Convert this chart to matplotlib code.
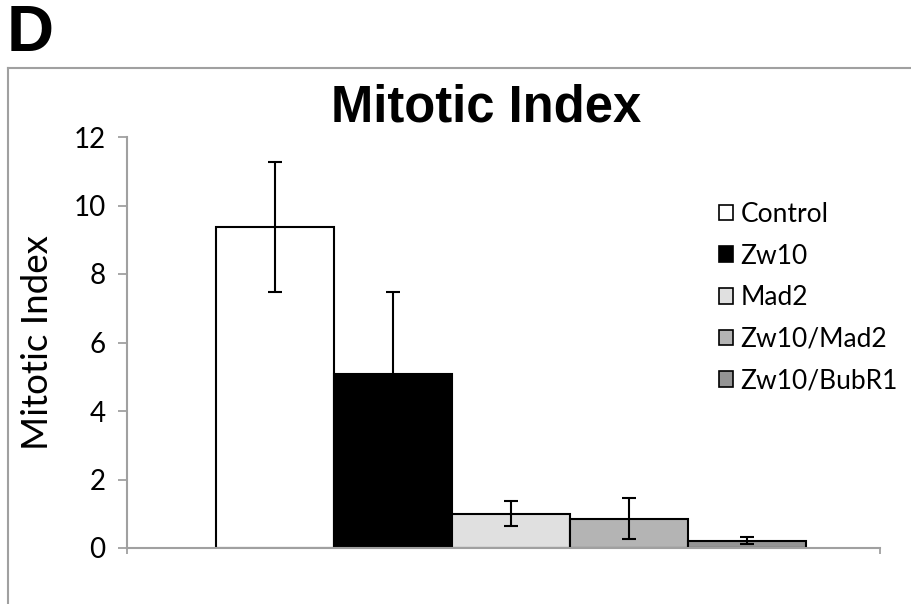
import matplotlib
matplotlib.use("Agg")
import matplotlib.pyplot as plt
from matplotlib.lines import Line2D
from matplotlib.patches import Patch

series = ["Control", "Zw10", "Mad2", "Zw10/Mad2", "Zw10/BubR1"]
values = [9.37, 5.08, 1.0, 0.85, 0.21]
errors = [1.9, 2.4, 0.37, 0.6, 0.1]
colors = ["#ffffff", "#000000", "#e0e0e0", "#b4b4b4", "#949494"]
yticks = [0, 2, 4, 6, 8, 10, 12]

plt.rcParams['font.family'] = ['Lato', 'DejaVu Sans']

fig = plt.figure(figsize=(9.12, 6.04), dpi=100)
ax = fig.add_axes([127/912, (604-548)/604, (880-127)/912, (548-137)/604])

x = list(range(len(series)))
ax.bar(x, values, width=1.0, color=colors, edgecolor="black", linewidth=1.5, zorder=2)
ax.errorbar(x, values, yerr=errors, fmt="none", ecolor="black", elinewidth=1.5,
            capsize=5, capthick=1.5, zorder=3)

ax.set_xlim(-1.254, 5.127)
ax.set_ylim(0, 12)
ax.set_yticks(yticks)
ax.set_yticklabels([str(t) for t in yticks], fontsize=20)
ax.set_xticks([-1.254, 5.127])
ax.set_xticklabels(["", ""])
ax.tick_params(axis="y", length=6.5, width=1.3, color="#a0a0a0", pad=9)
ax.tick_params(axis="x", length=4, width=1.3, color="#a0a0a0")
for s in ["top", "right"]:
    ax.spines[s].set_visible(False)
for s in ["left", "bottom"]:
    ax.spines[s].set_color("#a0a0a0")
    ax.spines[s].set_linewidth(1.5)

ax.set_ylabel("Mitotic Index", fontsize=26.5, labelpad=14)
fig.text(486/912, 1 - 108/604, "Mitotic Index", fontsize=36.5, fontweight="bold",
         family=["Liberation Sans", "DejaVu Sans"], ha="center", va="center")
fig.text(7/912, 1 - 34/604, "D", fontsize=47, fontweight="bold",
         family=["Liberation Sans", "DejaVu Sans"], ha="left", va="center")

# outer frame
fig.add_artist(Line2D([8/912, 8/912], [0, 1 - 68/604], transform=fig.transFigure,
                      color="#a0a0a0", linewidth=1.5))
fig.add_artist(Line2D([8/912, 1], [1 - 68/604, 1 - 68/604], transform=fig.transFigure,
                      color="#a0a0a0", linewidth=1.5))

handles = [Patch(facecolor=c, edgecolor="black", linewidth=1.2) for c in colors]
leg = ax.legend(handles, series, loc="upper left", bbox_to_anchor=(0.7865, 0.842),
                frameon=False, fontsize=19, handlelength=0.53, handleheight=0.53,
                handletextpad=0.28, labelspacing=0.63, borderaxespad=0, borderpad=0)

fig.savefig("out.png", dpi=100)
